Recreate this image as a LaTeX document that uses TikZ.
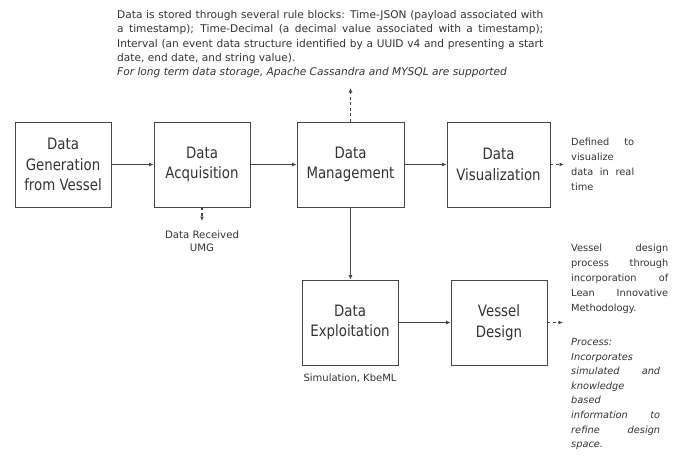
\documentclass[tikz,border=0pt]{standalone}
\usepackage{fontspec}
\setmainfont{DejaVu Sans}
\newfontfamily\boxfont[FakeStretch=0.85]{DejaVu Sans}
\usetikzlibrary{arrows.meta}
\setlength\parindent{0pt}
\definecolor{ink}{HTML}{333333}
\definecolor{edge}{HTML}{454545}
\tikzset{
  blk/.style={draw=edge, line width=0.9pt, minimum width=96pt, minimum height=85pt,
    inner sep=0pt, align=center, text=ink, font=\boxfont\fontsize{15.7}{20.5}\selectfont},
  arr/.style={draw=edge, line width=1.1pt, -{Latex[length=4.5pt,width=4pt]}},
  darr/.style={arr, dash pattern=on 3pt off 2.5pt},
  note/.style={inner sep=0pt, text=ink, align=justify, anchor=base west,
    font=\fontsize{10.6}{14.3}\selectfont},
  cnote/.style={inner sep=0pt, text=ink, align=center, anchor=base,
    font=\fontsize{10.2}{13}\selectfont},
}
\begin{document}
\begin{tikzpicture}[x=1pt,y=-1pt]
\useasboundingbox[fill=white] (0,0) rectangle (676,463);

\node[blk] (b1) at (63,164.5) {Data\\Generation\\from Vessel};
\node[blk] (b2) at (202,164.5) {Data\\Acquisition};
\node[blk, minimum width=107pt] (b3) at (350.5,164.5) {Data\\Management};
\node[blk, minimum width=103pt] (b4) at (498.5,164.5) {Data\\Visualization};
\node[blk] (b5) at (350,322.5) {Data\\Exploitation};
\node[blk] (b6) at (499,322.5) {Vessel\\Design};

\draw[arr] (b1) -- (b2);
\draw[arr] (b2) -- (b3);
\draw[arr] (b3) -- (b4);
\draw[arr] (b3.south) -- (b3.south |- b5.north);
\draw[arr] (b5) -- (b6);

\coordinate (up) at (350.5,88);
\coordinate (acq) at (202,221);
\coordinate (vis) at (564,164.5);
\coordinate (ves) at (563,322.5);
\draw[darr] (b3.north) -- (up);
\draw[darr] (b2.south) -- (acq);
\draw[darr] (b4.east) -- (vis);
\draw[darr] (b6.east) -- (ves);

\node[note, text width=426pt] (top) at (117,18.5) {Data is stored through several rule blocks: Time-JSON (payload associated with\linebreak
a timestamp); Time-Decimal (a decimal value associated with a timestamp);\linebreak
Interval (an event data structure identified by a UUID v4 and presenting a start\linebreak
date, end date, and string value).\newline
\textit{For long term data storage, Apache Cassandra and MYSQL are supported}};

\node[cnote] (rcv) at (202,251.5) {Data Received\\UMG};
\node[cnote, font=\fontsize{10}{13}\selectfont] (sim) at (350,381.5) {Simulation, KbeML};

\node[note, text width=63pt, font=\fontsize{9.8}{15}\selectfont] (def) at (571,145.5) {Defined to\linebreak visualize\newline data in real\linebreak time};

\node[note, text width=97pt, font=\fontsize{9.8}{15}\selectfont] (vd) at (571,251.5) {Vessel design\linebreak process through\linebreak incorporation of\linebreak Lean Innovative\linebreak Methodology.};

\node[note, text width=89pt, font=\itshape\fontsize{9.8}{14.6}\selectfont] (proc) at (571,345.5) {Process:\newline Incorporates\newline simulated and\linebreak knowledge\newline based\newline information to\linebreak refine design\linebreak space.};
\end{tikzpicture}
\end{document}
